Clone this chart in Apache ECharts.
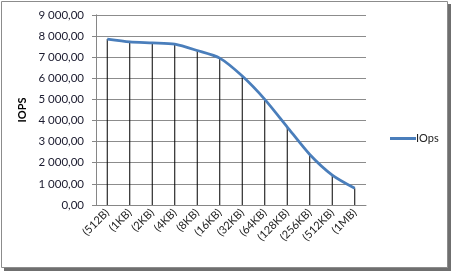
<!DOCTYPE html>
<html><head><meta charset="utf-8">
<script src="https://cdn.jsdelivr.net/npm/echarts@6/dist/echarts.min.js"></script>
<style>html,body{margin:0;padding:0;background:#fff}#c{width:454px;height:275px}</style>
</head><body><div id="c"></div>
<script>
var categories = ['(512B)','(1KB)','(2KB)','(4KB)','(8KB)','(16KB)','(32KB)','(64KB)','(128KB)','(256KB)','(512KB)','(1MB)'];
var iops = [7850, 7720, 7670, 7610, 7310, 6950, 6100, 5000, 3690, 2390, 1415, 790];
var seriesName = 'IOps';
var axisTitle = 'IOPS';

function fmt(v){
  var s = Math.round(v).toString().replace(/\B(?=(\d{3})+(?!\d))/g, ' ');
  return s + ',00';
}
var chart = echarts.init(document.getElementById('c'), null, {renderer:'canvas'});
var font = 'Lato, "Open Sans", sans-serif';
chart.setOption({
  animation:false,
  graphic:[
    {type:'rect', shape:{x:4,y:4,width:447,height:267}, style:{fill:'#6f6f6f'}, z:-10},
    {type:'rect', shape:{x:1.5,y:1.5,width:446,height:266}, style:{fill:'#fff', stroke:'#8c8c8c', lineWidth:1}, z:-9}
  ],
  grid:{left:96, top:14.8, right:88, bottom:70},
  legend:{
    data:[seriesName], left:385, top:128, icon:'rect', itemWidth:26, itemHeight:3, itemGap:2,
    textStyle:{fontFamily:font, fontSize:11, color:'#222', padding:[0,0,0,-5]}
  },
  xAxis:{
    type:'category', data:categories, boundaryGap:true,
    axisLine:{lineStyle:{color:'#868686'}},
    axisTick:{show:false},
    axisLabel:{rotate:45, interval:0, fontFamily:font, fontSize:11, color:'#222', margin:6},
    splitLine:{show:false}
  },
  yAxis:{
    type:'value', min:0, max:9000, interval:1000,
    name:axisTitle, nameLocation:'middle', nameGap:62, nameRotate:90,
    nameTextStyle:{fontFamily:font, fontSize:11, fontWeight:'bold', color:'#000'},
    axisLine:{show:true, lineStyle:{color:'#868686'}},
    axisTick:{show:true, length:4, lineStyle:{color:'#868686'}},
    axisLabel:{formatter:fmt, fontFamily:font, fontSize:11.5, color:'#1a1a2e', margin:12},
    splitLine:{lineStyle:{color:'#8c8c8c', width:1}}
  },
  series:[
    {name:'drop', type:'bar', data:iops, barWidth:1, itemStyle:{color:'#000'}, legendHoverLink:false, z:2},
    {name:seriesName, type:'line', data:iops, showSymbol:false, symbol:'none', smooth:0.25,
     lineStyle:{color:'#4a7ebb', width:2.75}, itemStyle:{color:'#4a7ebb'}, z:3}
  ]
});
</script></body></html>
